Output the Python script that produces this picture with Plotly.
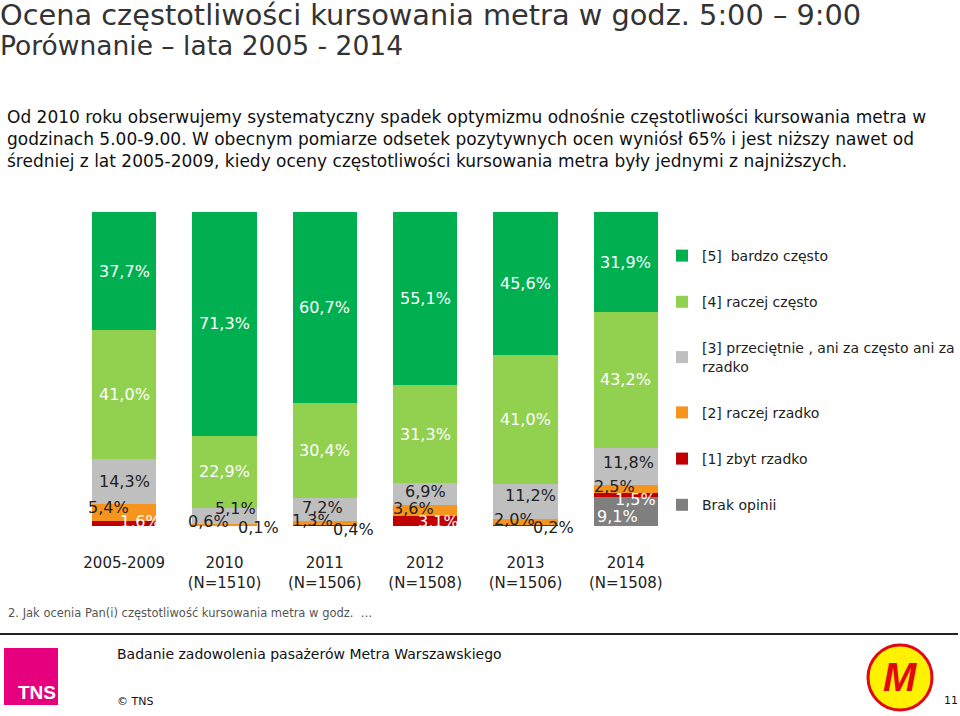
import plotly.graph_objects as go

categories = ["2005-2009", "2010", "2011", "2012", "2013", "2014"]
tick_labels = ["2005-2009", "2010<br>(N=1510)", "2011<br>(N=1506)", "2012<br>(N=1508)",
               "2013<br>(N=1506)", "2014<br>(N=1508)"]

brak_opinii = [0.0, 0.0, 0.0, 0.0, 0.0, 9.1]
zbyt_rzadko = [1.6, 0.1, 0.4, 3.1, 0.2, 1.5]
raczej_rzadko = [5.4, 0.6, 1.3, 3.6, 2.0, 2.5]
przecietnie = [14.3, 5.1, 7.2, 6.9, 11.2, 11.8]
raczej_czesto = [41.0, 22.9, 30.4, 31.3, 41.0, 43.2]
bardzo_czesto = [37.7, 71.3, 60.7, 55.1, 45.6, 31.9]

series_names = ["Brak opinii", "[1] zbyt rzadko", "[2] raczej rzadko",
                "[3] przeciętnie , ani za często ani za<br>rzadko",
                "[4] raczej często", "[5]  bardzo często"]
series_values = [brak_opinii, zbyt_rzadko, raczej_rzadko, przecietnie, raczej_czesto, bardzo_czesto]
colors = ["#7F7F7F", "#C00000", "#F7941D", "#BFBFBF", "#92D050", "#00B050"]

# label styling: (xshift, yshift, colour) per series (rows) and category (columns)
DK = "#222222"
label_style = [
    [(0, 0, "white")] * 5 + [(-8, -5, "white")],                                   # Brak opinii
    [(16, 2, "white"), (34, -2, DK), (29, -4, DK), (13, 0, "white"), (28, -2, DK), (10, -4, "white")],
    [(-16, 5, DK), (-16, 3, DK), (-12, 2, DK), (-12, 2, DK), (-11, 3, DK), (-11, 2, DK)],
    [(0, 0, DK), (11, 7, DK), (-2, 2, DK), (0, 3, DK), (5, 6, DK), (3, 4, DK)],
    [(0, 0, "white")] * 6,
    [(0, 0, "white")] * 6,
]

W, H = 960, 716
ML, MR, MT, MB = 74, 284, 212, 190
PW, PH = W - ML - MR, H - MT - MB


def px(x):
    return (x - ML) / PW


def py(y):
    return (H - MB - y) / PH


fig = go.Figure()
n = len(series_names)
for i, (name, vals, col) in enumerate(zip(series_names, series_values, colors)):
    fig.add_trace(go.Bar(
        x=categories, y=vals, name=name, marker=dict(color=col, line=dict(width=0)),
        legendgroup=f"g{i}", legendrank=n - i, hoverinfo="skip",
    ))

annotations = []
for ci, cat in enumerate(categories):
    base = 0.0
    for si, vals in enumerate(series_values):
        v = vals[ci]
        if v <= 0:
            continue
        mid = base + v / 2
        txt = f"{v:.1f}%".replace(".", ",")
        xs, ys, col = label_style[si][ci]
        annotations.append(dict(x=ci, y=mid, xref="x", yref="y", text=txt, showarrow=False,
                                xshift=xs, yshift=ys,
                                font=dict(family="DejaVu Sans", size=16, color=col)))
        base += v

text_dark = "#333333"
annotations += [
    dict(x=px(-2), y=py(15), xref="paper", yref="paper", xanchor="left", yanchor="middle",
         text="Ocena częstotliwości kursowania metra w godz. 5:00 – 9:00", showarrow=False,
         font=dict(family="DejaVu Sans", size=28.8, color=text_dark)),
    dict(x=px(-2), y=py(46), xref="paper", yref="paper", xanchor="left", yanchor="middle",
         text="Porównanie – lata 2005 - 2014", showarrow=False,
         font=dict(family="DejaVu Sans", size=26.5, color=text_dark)),
    dict(x=px(5), y=py(139), xref="paper", yref="paper", xanchor="left", yanchor="middle",
         align="left",
         text=("Od 2010 roku obserwujemy systematyczny spadek optymizmu odnośnie częstotliwości kursowania metra w<br>"
               "godzinach 5.00-9.00. W obecnym pomiarze odsetek pozytywnych ocen wyniósł 65% i jest niższy nawet od<br>"
               "średniej z lat 2005-2009, kiedy oceny częstotliwości kursowania metra były jednymi z najniższych."),
         showarrow=False, font=dict(family="DejaVu Sans", size=17, color="#111111")),
    dict(x=px(6), y=py(613), xref="paper", yref="paper", xanchor="left", yanchor="middle",
         text="2. Jak ocenia Pan(i) częstotliwość kursowania metra w godz.  …", showarrow=False,
         font=dict(family="DejaVu Sans", size=11.5, color="#555555")),
    dict(x=px(115), y=py(654), xref="paper", yref="paper", xanchor="left", yanchor="middle",
         text="Badanie zadowolenia pasażerów Metra Warszawskiego", showarrow=False,
         font=dict(family="DejaVu Sans", size=14, color="#111111")),
    dict(x=px(115), y=py(701), xref="paper", yref="paper", xanchor="left", yanchor="middle",
         text="© TNS", showarrow=False,
         font=dict(family="DejaVu Sans", size=11, color="#111111")),
    dict(x=px(951), y=py(700), xref="paper", yref="paper", xanchor="center", yanchor="middle",
         text="11", showarrow=False,
         font=dict(family="DejaVu Sans", size=11, color="#111111")),
    dict(x=px(58), y=py(692), xref="paper", yref="paper", xanchor="right", yanchor="middle",
         text="<b>TNS</b>", showarrow=False,
         font=dict(family="Liberation Sans Narrow, Liberation Sans", size=19, color="white")),
    dict(x=px(900), y=py(677), xref="paper", yref="paper", xanchor="center", yanchor="middle",
         text="<b><i>M</i></b>", showarrow=False,
         font=dict(family="Liberation Sans", size=40, color="#E30613")),
]

shapes = [
    dict(type="line", xref="paper", yref="paper", x0=px(0), x1=px(958), y0=py(634), y1=py(634),
         line=dict(color="#222222", width=2)),
    dict(type="rect", xref="paper", yref="paper", x0=px(4), x1=px(58), y0=py(705), y1=py(648),
         fillcolor="#E6007E", line=dict(width=0)),
    dict(type="circle", xref="paper", yref="paper", x0=px(868), x1=px(932), y0=py(710), y1=py(645),
         fillcolor="#FFF200", line=dict(color="#E30613", width=3)),
]

fig.update_layout(
    width=W, height=H,
    margin=dict(l=ML, r=MR, t=MT, b=MB, autoexpand=False),
    paper_bgcolor="white", plot_bgcolor="white",
    barmode="stack", bargap=0.36,
    showlegend=True,
    legend=dict(x=px(662), y=py(240), xanchor="left", yanchor="top",
                traceorder="grouped", tracegroupgap=25,
                font=dict(family="DejaVu Sans", size=14, color="#222222"),
                itemwidth=30, bgcolor="rgba(0,0,0,0)"),
    xaxis=dict(type="category", tickmode="array", tickvals=categories, ticktext=tick_labels,
               range=[-0.5, 5.5], autorange=False,
               showline=False, showgrid=False, ticks="", ticklabelstandoff=26,
               tickfont=dict(family="DejaVu Sans", size=15, color="#222222")),
    yaxis=dict(range=[0, 100], visible=False, showgrid=False, zeroline=False),
    annotations=annotations,
    shapes=shapes,
)

fig.write_html("out.html", config={"displayModeBar": False},
               post_script="document.body.style.margin='0';document.body.style.overflow='hidden';")
